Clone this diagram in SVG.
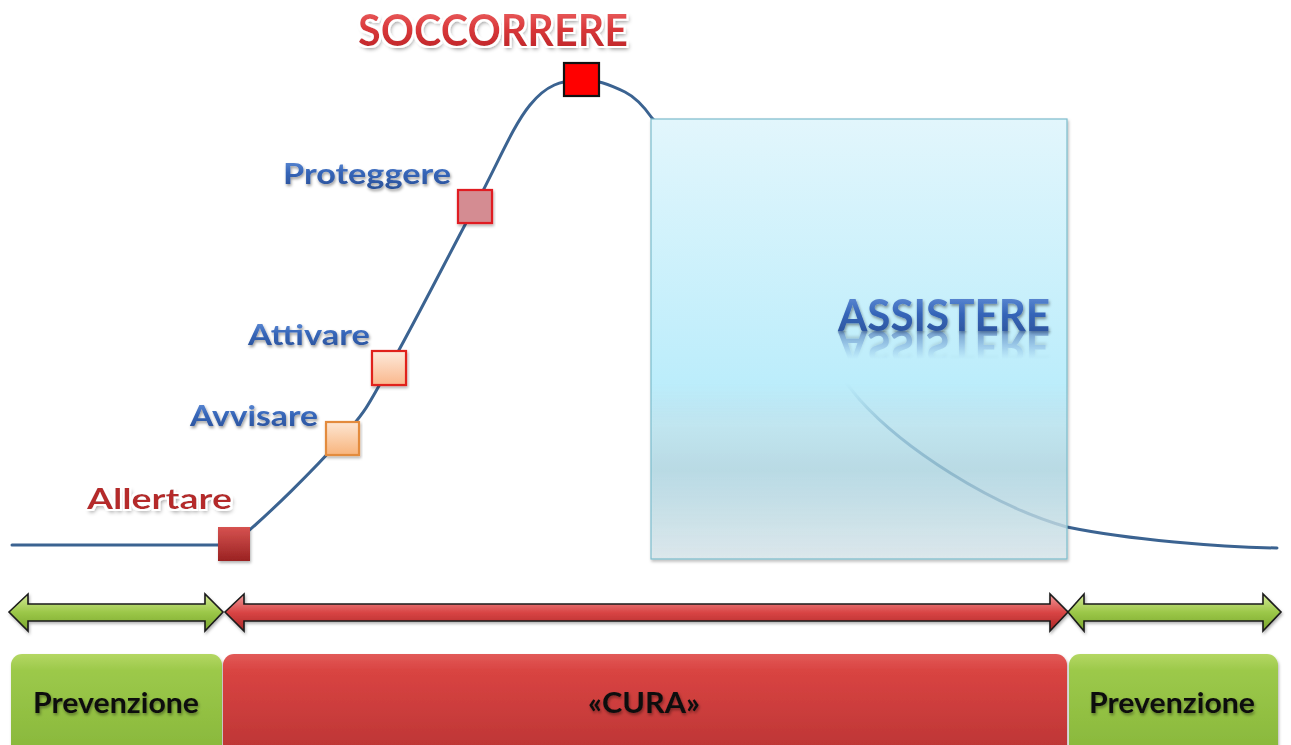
<svg xmlns="http://www.w3.org/2000/svg" xmlns:xlink="http://www.w3.org/1999/xlink" width="1291" height="745" viewBox="0 0 1291 745">
<defs>
<style>
.lbl{font-family:Lato,"Liberation Sans",sans-serif;font-weight:bold}
.blue{fill:url(#gBlue)}
.curve{fill:none;stroke:#3b6391;stroke-width:3;stroke-linecap:round}
.arr{stroke:#1a1a1a;stroke-width:1.6;stroke-linejoin:miter}
.btxt{font-family:Lato,"Liberation Sans",sans-serif;font-weight:bold;font-size:29px;fill:#111}
</style>
<linearGradient id="gBlue" x1="0" y1="0" x2="0" y2="1">
<stop offset="0" stop-color="#6f9ae0"/><stop offset="0.5" stop-color="#3565b8"/><stop offset="1" stop-color="#2a4f95"/>
</linearGradient>
<linearGradient id="gRedTxt" x1="0" y1="0" x2="0" y2="1">
<stop offset="0" stop-color="#f06a6a"/><stop offset="0.5" stop-color="#d9383a"/><stop offset="1" stop-color="#b82024"/>
</linearGradient>
<linearGradient id="gDarkRed" x1="0" y1="0" x2="0" y2="1">
<stop offset="0" stop-color="#d65250"/><stop offset="1" stop-color="#9a2222"/>
</linearGradient>
<linearGradient id="gBox" x1="0" y1="0" x2="0" y2="1">
<stop offset="0" stop-color="#e2f6fc" stop-opacity="1"/>
<stop offset="0.6" stop-color="#bcedfb" stop-opacity="1"/>
<stop offset="0.7" stop-color="#b6e6f4" stop-opacity="0.72"/>
<stop offset="0.8" stop-color="#acd8e5" stop-opacity="0.72"/>
<stop offset="1" stop-color="#dbe9ee" stop-opacity="0.8"/>
</linearGradient>
<linearGradient id="gPeach1" x1="0" y1="0" x2="0" y2="1">
<stop offset="0" stop-color="#fde6d3"/><stop offset="1" stop-color="#f8b47c"/>
</linearGradient>
<linearGradient id="gPeach2" x1="0" y1="0" x2="0" y2="1">
<stop offset="0" stop-color="#fdeadc"/><stop offset="1" stop-color="#fab78c"/>
</linearGradient>
<linearGradient id="gGreenA" x1="0" y1="0" x2="0" y2="1">
<stop offset="0" stop-color="#d4ea96"/><stop offset="0.5" stop-color="#9bc748"/><stop offset="1" stop-color="#79a52c"/>
</linearGradient>
<linearGradient id="gRedA" x1="0" y1="0" x2="0" y2="1">
<stop offset="0" stop-color="#f09a9a"/><stop offset="0.5" stop-color="#d94545"/><stop offset="1" stop-color="#a92525"/>
</linearGradient>
<linearGradient id="gGreenB" x1="0" y1="0" x2="0" y2="1">
<stop offset="0" stop-color="#b4d763"/><stop offset="0.15" stop-color="#9cc94a"/><stop offset="1" stop-color="#86b53a"/>
</linearGradient>
<linearGradient id="gRedB" x1="0" y1="0" x2="0" y2="1">
<stop offset="0" stop-color="#e25a58"/><stop offset="0.15" stop-color="#d94442"/><stop offset="1" stop-color="#b83333"/>
</linearGradient>
<linearGradient id="gRefl" x1="0" y1="0" x2="0" y2="1">
<stop offset="0" stop-color="#fff" stop-opacity="0.55"/><stop offset="1" stop-color="#fff" stop-opacity="0"/>
</linearGradient>
<mask id="mRefl" maskUnits="userSpaceOnUse" x="820" y="331" width="260" height="40">
<rect x="820" y="331" width="260" height="28" fill="url(#gRefl)"/>
</mask>
<filter id="fShadow" x="-10%" y="-20%" width="120%" height="150%">
<feDropShadow dx="1" dy="2" stdDeviation="1.5" flood-color="#000" flood-opacity="0.3"/>
</filter>
<filter id="fGlow" x="-10%" y="-30%" width="120%" height="160%">
<feMorphology in="SourceAlpha" operator="dilate" radius="1.5" result="d"/>
<feFlood flood-color="#fff"/><feComposite in2="d" operator="in" result="w"/>
<feGaussianBlur in="SourceAlpha" stdDeviation="2" result="b"/>
<feOffset in="b" dx="1.5" dy="2.5" result="o"/>
<feFlood flood-color="#000" flood-opacity="0.45"/><feComposite in2="o" operator="in" result="s"/>
<feMerge><feMergeNode in="s"/><feMergeNode in="w"/><feMergeNode in="SourceGraphic"/></feMerge>
</filter>
<filter id="fTxtSh" x="-10%" y="-30%" width="120%" height="160%">
<feGaussianBlur in="SourceAlpha" stdDeviation="1.5" result="b"/>
<feOffset in="b" dx="1" dy="2" result="o"/>
<feFlood flood-color="#000" flood-opacity="0.4"/><feComposite in2="o" operator="in" result="s"/>
<feMerge><feMergeNode in="s"/><feMergeNode in="SourceGraphic"/></feMerge>
</filter>
</defs>
<rect width="1291" height="745" fill="#fff"/>

<g id="connectors">
<path class="curve" d="M12,545 L232,545 C268.7,515 315.8,467.5 342,438 C368.2,408.5 366.8,406.7 389,368 C411.2,329.3 451.5,249.8 475,206 C498.5,162.2 512.8,126 530,105 C547,84 562,81 578,80 C594,78 613,86 625,92 C637,98 645,108 652,118 C680,145 805,335 860,400 C903,448 990,505 1067,527 C1130,540 1220,547 1277,548"/>
</g>

<g id="assistere">
<rect x="651" y="119" width="416" height="440" fill="url(#gBox)" stroke="#7cbccc" stroke-width="1.2" filter="url(#fShadow)"/>
<text id="assTxt" class="lbl blue" x="838" y="331" font-size="44" textLength="212" lengthAdjust="spacingAndGlyphs" filter="url(#fTxtSh)">ASSISTERE</text>
<g mask="url(#mRefl)"><use xlink:href="#assTxt" href="#assTxt" transform="translate(0,662) scale(1,-1)"/></g>
</g>

<g id="allertare">
<rect x="218" y="527" width="32" height="34" fill="url(#gDarkRed)" filter="url(#fShadow)"/>
<text class="lbl" x="87" y="509" font-size="29" fill="#b52a2c" textLength="145" lengthAdjust="spacingAndGlyphs" filter="url(#fGlow)">Allertare</text>
</g>

<g id="avvisare">
<rect x="326" y="422" width="33" height="33" fill="url(#gPeach1)" stroke="#e38b3c" stroke-width="2.2" filter="url(#fShadow)"/>
<text class="lbl blue" x="190" y="426" font-size="28" textLength="128" lengthAdjust="spacingAndGlyphs" filter="url(#fTxtSh)">Avvisare</text>
</g>

<g id="attivare">
<rect x="372" y="351" width="34" height="34" fill="url(#gPeach2)" stroke="#e0221c" stroke-width="2.2" filter="url(#fShadow)"/>
<text class="lbl blue" x="248" y="345" font-size="28" textLength="122" lengthAdjust="spacingAndGlyphs" filter="url(#fTxtSh)">Attivare</text>
</g>

<g id="proteggere">
<rect x="458" y="190" width="34" height="33" fill="#d48c92" stroke="#e01f22" stroke-width="2.2" filter="url(#fShadow)"/>
<text class="lbl blue" x="283" y="184" font-size="29" textLength="168" lengthAdjust="spacingAndGlyphs" filter="url(#fTxtSh)">Proteggere</text>
</g>

<g id="soccorrere">
<rect x="564" y="63" width="35" height="33" fill="#ff0000" stroke="#111" stroke-width="2.2"/>
<text class="lbl" x="358" y="46" font-size="44" fill="url(#gRedTxt)" textLength="270" lengthAdjust="spacingAndGlyphs" filter="url(#fGlow)">SOCCORRERE</text>
</g>

<g id="arrows" filter="url(#fShadow)">
<path class="arr" fill="url(#gGreenA)" d="M9,612 L28,594 L28,604 L205,604 L205,594 L223,612 L205,631 L205,621 L28,621 L28,631 Z"/>
<path class="arr" fill="url(#gRedA)" d="M225,612 L244,594 L244,604 L1050,604 L1050,594 L1068,612 L1050,631 L1050,621 L244,621 L244,631 Z"/>
<path class="arr" fill="url(#gGreenA)" d="M1068,612 L1084,594 L1084,604 L1263,604 L1263,594 L1281,612 L1263,631 L1263,621 L1084,621 L1084,631 Z"/>
</g>

<g id="prevenzione-left">
<rect x="11" y="654" width="211" height="110" rx="11" fill="url(#gGreenB)" filter="url(#fShadow)"/>
<text class="btxt" x="33" y="713" textLength="166" lengthAdjust="spacingAndGlyphs" filter="url(#fTxtSh)">Prevenzione</text>
</g>

<g id="cura">
<rect x="223" y="654" width="844" height="110" rx="11" fill="url(#gRedB)" filter="url(#fShadow)"/>
<text class="btxt" x="588" y="713" textLength="112" lengthAdjust="spacingAndGlyphs" filter="url(#fTxtSh)">«CURA»</text>
</g>

<g id="prevenzione-right">
<rect x="1069" y="654" width="209" height="110" rx="11" fill="url(#gGreenB)" filter="url(#fShadow)"/>
<text class="btxt" x="1089" y="713" textLength="166" lengthAdjust="spacingAndGlyphs" filter="url(#fTxtSh)">Prevenzione</text>
</g>
</svg>
